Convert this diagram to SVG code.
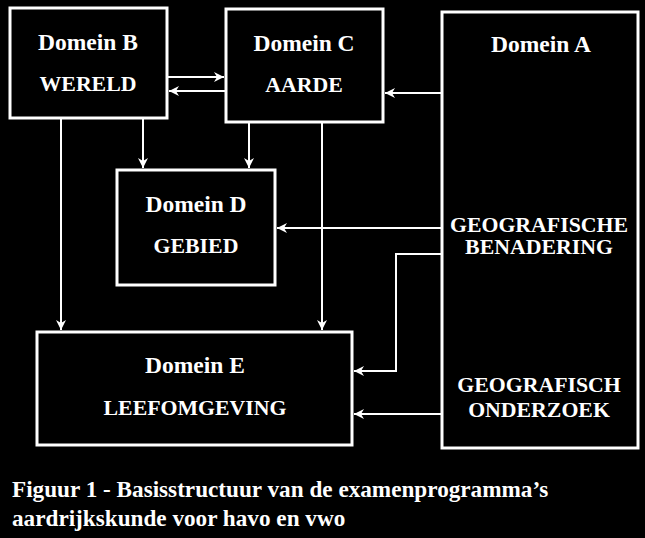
<svg xmlns="http://www.w3.org/2000/svg" width="645" height="538" viewBox="0 0 645 538">
<defs>
<marker id="ah" viewBox="0 0 10 10" refX="10" refY="5" markerWidth="10" markerHeight="10" markerUnits="userSpaceOnUse" orient="auto">
<path d="M0,0 L10,5 L0,10 L3,5 Z" fill="#fff"/>
</marker>
<style>
.box{fill:#000;stroke:#fff;stroke-width:3}
.t{font-family:"Liberation Serif",serif;font-weight:bold;font-size:23.5px;fill:#fff;text-anchor:middle}
.u{font-family:"Liberation Serif",serif;font-weight:bold;font-size:21.8px;fill:#fff;text-anchor:middle}
.cap{font-family:"Liberation Serif",serif;font-weight:bold;font-size:23.2px;fill:#fff}
.c{fill:none;stroke:#fff;stroke-width:2}
.ca{fill:none;stroke:#fff;stroke-width:2;marker-end:url(#ah)}
</style>
</defs>
<rect width="645" height="538" fill="#000"/>
<g id="connectors">
<line class="ca" x1="168" y1="77" x2="224" y2="77"/>
<line class="ca" x1="225" y1="91" x2="169" y2="91"/>
<line class="ca" x1="441" y1="93" x2="385" y2="93"/>
<line class="ca" x1="143" y1="119" x2="143" y2="168"/>
<line class="ca" x1="249" y1="123" x2="249" y2="168"/>
<line class="ca" x1="61" y1="119" x2="61" y2="330"/>
<line class="ca" x1="322" y1="123" x2="322" y2="330"/>
<line class="ca" x1="441" y1="228" x2="277" y2="228"/>
<polyline class="ca" points="441,254 396,254 396,371 354,371"/>
<line class="ca" x1="441" y1="414" x2="354" y2="414"/>
</g>
<g id="nodeB">
<rect class="box" x="10" y="8" width="157" height="110"/>
<text class="t" x="88" y="50">Domein B</text>
<text class="u" x="88" y="91">WERELD</text>
</g>
<g id="nodeC">
<rect class="box" x="226" y="9" width="157" height="113"/>
<text class="t" x="304" y="51">Domein C</text>
<text class="u" x="304" y="92">AARDE</text>
</g>
<g id="nodeA">
<rect class="box" x="442" y="12" width="196" height="436"/>
<text class="t" x="541" y="52">Domein A</text>
<text class="u" x="539" y="232">GEOGRAFISCHE</text>
<text class="u" x="539" y="254">BENADERING</text>
<text class="u" x="539" y="392">GEOGRAFISCH</text>
<text class="u" x="539" y="417">ONDERZOEK</text>
</g>
<g id="nodeD">
<rect class="box" x="117" y="170" width="158" height="115"/>
<text class="t" x="196" y="212">Domein D</text>
<text class="u" x="196" y="253">GEBIED</text>
</g>
<g id="nodeE">
<rect class="box" x="37" y="332" width="315" height="113"/>
<text class="t" x="195" y="373">Domein E</text>
<text class="u" x="195" y="415">LEEFOMGEVING</text>
</g>
<g id="caption">
<text class="cap" x="12" y="497">Figuur 1 - Basisstructuur van de examenprogramma’s</text>
<text class="cap" x="12" y="526">aardrijkskunde voor havo en vwo</text>
</g>
</svg>
